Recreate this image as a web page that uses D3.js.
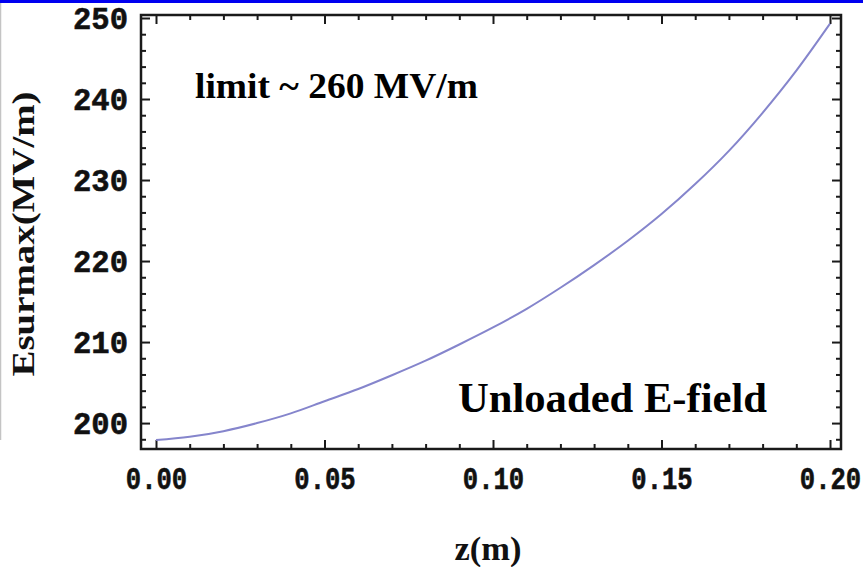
<!DOCTYPE html>
<html>
<head>
<meta charset="utf-8">
<script src="https://cdn.jsdelivr.net/npm/d3@7/dist/d3.min.js"></script>
<style>
  html, body { margin: 0; padding: 0; background: #fff; }
  svg { display: block; }
</style>
</head>
<body>
<script>
// Position along the structure (m)
const zValues = [0.00, 0.01, 0.02, 0.03, 0.04, 0.05, 0.06, 0.07, 0.08, 0.09, 0.10,
                 0.11, 0.12, 0.13, 0.14, 0.15, 0.16, 0.17, 0.18, 0.19, 0.20];
// Peak surface field (MV/m)
const esurmax = [197.9, 198.3, 199.0, 200.0, 201.2, 202.7, 204.2, 205.9, 207.7, 209.7, 211.8,
                 214.1, 216.7, 219.5, 222.5, 225.8, 229.5, 233.6, 238.3, 243.5, 249.3];
const xMajorTicks = [0.00, 0.05, 0.10, 0.15, 0.20];
const yMajorTicks = [200, 210, 220, 230, 240, 250];
const xTickLabels = ["0.00", "0.05", "0.10", "0.15", "0.20"];
const yTickLabels = ["200", "210", "220", "230", "240", "250"];
const xLabel = "z(m)";
const yLabel = "Esurmax(MV/m)";
const notes = ["limit ~ 260 MV/m", "Unloaded E-field"];

const W = 863, H = 567;
const frame = { left: 141, right: 841, top: 15, bottom: 449 };

const svg = d3.select("body").append("svg")
  .attr("width", W).attr("height", H);

// slide decoration: blue rule at top, faint grey edge at left
svg.append("rect").attr("x", 0).attr("y", 0).attr("width", W).attr("height", 3).attr("fill", "#0000f0");
svg.append("line").attr("x1", 0.5).attr("x2", 0.5).attr("y1", 3).attr("y2", 440)
  .attr("stroke", "#c4c4c4").attr("stroke-width", 1.5);

const x = d3.scaleLinear().domain([-0.00445, 0.20326]).range([frame.left, frame.right]);
const y = d3.scaleLinear().domain([196.8, 250.37]).range([frame.bottom, frame.top]);

const xMinor = d3.range(0, 21).map(i => i / 100).filter(v => !xMajorTicks.some(m => Math.abs(m - v) < 1e-9));
const yMinor = d3.range(198, 251, 2).filter(v => v % 10 !== 0);

const tickFont = "'Liberation Mono', 'Courier New', monospace";

function styleAxis(g) {
  g.select(".domain").remove();
  g.selectAll("line").attr("stroke", "#1a1a1a").attr("stroke-width", 2);
}

// minor ticks (inward, no labels)
const minorLen = 5, majorLen = 9;
svg.append("g").attr("transform", `translate(0,${frame.bottom})`)
  .call(d3.axisBottom(x).tickValues(xMinor).tickSize(-minorLen).tickFormat(""))
  .call(styleAxis);
svg.append("g").attr("transform", `translate(0,${frame.top})`)
  .call(d3.axisTop(x).tickValues(xMinor).tickSize(-minorLen).tickFormat(""))
  .call(styleAxis);
svg.append("g").attr("transform", `translate(${frame.left},0)`)
  .call(d3.axisLeft(y).tickValues(yMinor).tickSize(-minorLen).tickFormat(""))
  .call(styleAxis);
svg.append("g").attr("transform", `translate(${frame.right},0)`)
  .call(d3.axisRight(y).tickValues(yMinor).tickSize(-minorLen).tickFormat(""))
  .call(styleAxis);

// major ticks with labels
const xAxis = svg.append("g").attr("transform", `translate(0,${frame.bottom})`)
  .call(d3.axisBottom(x).tickValues(xMajorTicks).tickSize(-majorLen).tickPadding(17)
    .tickFormat((d, i) => xTickLabels[i]))
  .call(styleAxis);
svg.append("g").attr("transform", `translate(0,${frame.top})`)
  .call(d3.axisTop(x).tickValues(xMajorTicks).tickSize(-majorLen).tickFormat(""))
  .call(styleAxis);
const yAxis = svg.append("g").attr("transform", `translate(${frame.left},0)`)
  .call(d3.axisLeft(y).tickValues(yMajorTicks).tickSize(-majorLen).tickPadding(13)
    .tickFormat((d, i) => yTickLabels[i]))
  .call(styleAxis);
svg.append("g").attr("transform", `translate(${frame.right},0)`)
  .call(d3.axisRight(y).tickValues(yMajorTicks).tickSize(-majorLen).tickFormat(""))
  .call(styleAxis);

[xAxis, yAxis].forEach(g => g.selectAll("text")
  .attr("font-family", tickFont).attr("font-weight", "bold")
  .attr("font-size", 32).attr("fill", "#111")
  .attr("stroke", "#111").attr("stroke-width", 0.6));
// the tick numerals are set a little narrower than the monospace default
xAxis.selectAll("text").attr("transform", "scale(0.8,1)");
yAxis.selectAll("text").attr("textLength", 55).attr("lengthAdjust", "spacingAndGlyphs");

// plot frame
svg.append("rect")
  .attr("x", frame.left).attr("y", frame.top)
  .attr("width", frame.right - frame.left).attr("height", frame.bottom - frame.top)
  .attr("fill", "none").attr("stroke", "#1a1a1a").attr("stroke-width", 2.5);

// field curve
const line = d3.line()
  .x((d, i) => x(zValues[i]))
  .y(d => y(d))
  .curve(d3.curveMonotoneX);
svg.append("path")
  .datum(esurmax)
  .attr("d", line)
  .attr("fill", "none")
  .attr("stroke", "#8585cc")
  .attr("stroke-width", 2);

// annotations
const serif = "'Liberation Serif', 'Times New Roman', serif";
svg.append("text").attr("x", 195).attr("y", 98)
  .attr("font-family", serif).attr("font-weight", "bold").attr("font-size", 36)
  .attr("textLength", 283).attr("lengthAdjust", "spacingAndGlyphs")
  .attr("fill", "#000").text(notes[0]);
svg.append("text").attr("x", 458).attr("y", 412)
  .attr("font-family", serif).attr("font-weight", "bold").attr("font-size", 42.5)
  .attr("textLength", 309).attr("lengthAdjust", "spacingAndGlyphs")
  .attr("fill", "#000").text(notes[1]);

// axis titles
svg.append("text").attr("x", 488).attr("y", 560)
  .attr("text-anchor", "middle")
  .attr("font-family", serif).attr("font-weight", "bold").attr("font-size", 33)
  .attr("textLength", 67).attr("lengthAdjust", "spacingAndGlyphs")
  .attr("fill", "#111").text(xLabel);
svg.append("text")
  .attr("transform", `translate(34,234) rotate(-90)`)
  .attr("text-anchor", "middle")
  .attr("font-family", serif).attr("font-weight", "bold").attr("font-size", 32)
  .attr("textLength", 285).attr("lengthAdjust", "spacingAndGlyphs")
  .attr("fill", "#111").text(yLabel);
</script>
</body>
</html>
